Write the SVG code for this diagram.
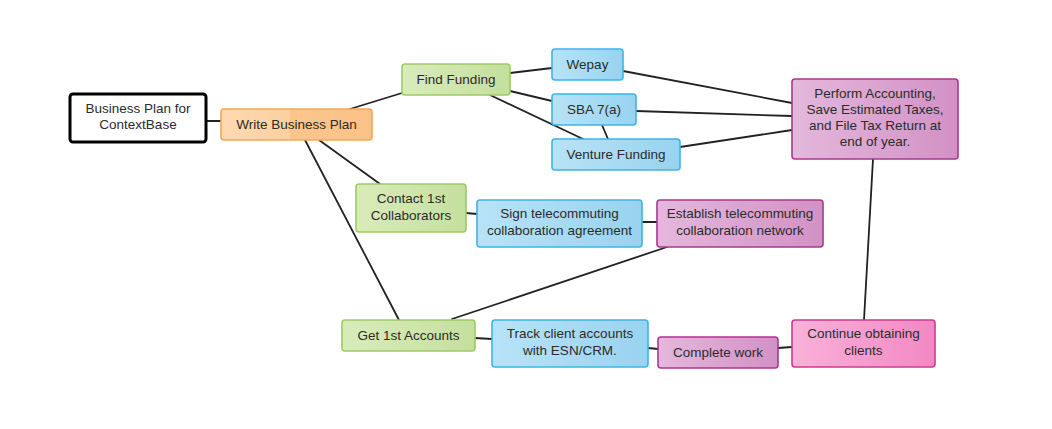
<svg xmlns="http://www.w3.org/2000/svg" width="1052" height="429" viewBox="0 0 1052 429">
<defs>
<linearGradient id="gOr" x1="0" y1="0" x2="1" y2="0"><stop offset="0" stop-color="#fdd9b2"/><stop offset="0.45" stop-color="#fcd0a0"/><stop offset="0.46" stop-color="#fbc58c"/><stop offset="1" stop-color="#fbc287"/></linearGradient>
<linearGradient id="gGr" x1="0" y1="0" x2="1" y2="0"><stop offset="0" stop-color="#d8ecbb"/><stop offset="1" stop-color="#c5df9e"/></linearGradient>
<linearGradient id="gBl" x1="0" y1="0" x2="1" y2="0"><stop offset="0" stop-color="#b8e3f7"/><stop offset="1" stop-color="#98d3ef"/></linearGradient>
<linearGradient id="gMg" x1="0" y1="0" x2="1" y2="0"><stop offset="0" stop-color="#e4b8dc"/><stop offset="1" stop-color="#d291c5"/></linearGradient>
<linearGradient id="gPk" x1="0" y1="0" x2="1" y2="0"><stop offset="0" stop-color="#f9b1d9"/><stop offset="1" stop-color="#f388c4"/></linearGradient>
</defs>
<style>
.t{font-family:"Liberation Sans",Arial,sans-serif;font-size:13.5px;fill:#2b2b2b;text-anchor:middle}
.c{stroke:#222;stroke-width:1.8;fill:none;stroke-linecap:round}
.n{stroke-width:1.6}
.root{fill:#fff;stroke:#000;stroke-width:3}
.or{fill:url(#gOr);stroke:#f6a650}
.gr{fill:url(#gGr);stroke:#9ccd5e}
.bl{fill:url(#gBl);stroke:#3db4e7}
.mg{fill:url(#gMg);stroke:#ad3591}
.pk{fill:url(#gPk);stroke:#cf3893}
</style>
<rect width="1052" height="429" fill="#fff"/>
<g id="connectors">
<line class="c" x1="206" y1="121" x2="221" y2="121"/>
<line class="c" x1="350" y1="109" x2="402" y2="93"/>
<line class="c" x1="305" y1="140" x2="399" y2="320"/>
<line class="c" x1="319" y1="140" x2="380" y2="184"/>
<line class="c" x1="510" y1="73" x2="552" y2="68"/>
<line class="c" x1="510" y1="91" x2="552" y2="101"/>
<line class="c" x1="490" y1="95" x2="583" y2="139"/>
<line class="c" x1="602" y1="125" x2="608" y2="139"/>
<line class="c" x1="623" y1="71" x2="792" y2="103"/>
<line class="c" x1="636" y1="111" x2="792" y2="116"/>
<line class="c" x1="680" y1="147" x2="792" y2="130"/>
<line class="c" x1="873" y1="159" x2="864" y2="320"/>
<line class="c" x1="466" y1="213" x2="477" y2="214"/>
<line class="c" x1="642" y1="222" x2="657" y2="222"/>
<line class="c" x1="667" y1="247" x2="452" y2="319"/>
<line class="c" x1="475" y1="338" x2="492" y2="339"/>
<line class="c" x1="648" y1="348" x2="658" y2="349"/>
<line class="c" x1="778" y1="348" x2="792" y2="347"/>
</g>
<g id="n-root"><rect class="root" x="70" y="94" width="136" height="48" rx="3"/><text class="t" x="138" y="113">Business Plan for</text><text class="t" x="138" y="129">ContextBase</text></g>
<g id="n-write"><rect class="n or" x="221" y="109" width="151" height="31" rx="3"/><text class="t" x="296.5" y="129">Write Business Plan</text></g>
<g id="n-funding"><rect class="n gr" x="402" y="64" width="108" height="31" rx="3"/><text class="t" x="456" y="84">Find Funding</text></g>
<g id="n-wepay"><rect class="n bl" x="552" y="49" width="71" height="31" rx="3"/><text class="t" x="587.5" y="69">Wepay</text></g>
<g id="n-sba"><rect class="n bl" x="552" y="94" width="84" height="31" rx="3"/><text class="t" x="594" y="114">SBA 7(a)</text></g>
<g id="n-venture"><rect class="n bl" x="552" y="139" width="128" height="31" rx="3"/><text class="t" x="616" y="159">Venture Funding</text></g>
<g id="n-accounting"><rect class="n mg" x="792" y="79" width="166" height="80" rx="3"/><text class="t" x="875" y="98">Perform Accounting,</text><text class="t" x="875" y="114">Save Estimated Taxes,</text><text class="t" x="875" y="130">and File Tax Return at</text><text class="t" x="875" y="146">end of year.</text></g>
<g id="n-contact"><rect class="n gr" x="356" y="184" width="110" height="48" rx="3"/><text class="t" x="411" y="203">Contact 1st</text><text class="t" x="411" y="220">Collaborators</text></g>
<g id="n-sign"><rect class="n bl" x="477" y="200" width="165" height="47" rx="3"/><text class="t" x="559.5" y="218">Sign telecommuting</text><text class="t" x="559.5" y="235">collaboration agreement</text></g>
<g id="n-establish"><rect class="n mg" x="657" y="200" width="166" height="47" rx="3"/><text class="t" x="740" y="218">Establish telecommuting</text><text class="t" x="740" y="235">collaboration network</text></g>
<g id="n-accounts"><rect class="n gr" x="342" y="320" width="133" height="31" rx="3"/><text class="t" x="408.5" y="340">Get 1st Accounts</text></g>
<g id="n-track"><rect class="n bl" x="492" y="320" width="156" height="47" rx="3"/><text class="t" x="570" y="338">Track client accounts</text><text class="t" x="570" y="355">with ESN/CRM.</text></g>
<g id="n-complete"><rect class="n mg" x="658" y="337" width="120" height="31" rx="3"/><text class="t" x="718" y="357">Complete work</text></g>
<g id="n-continue"><rect class="n pk" x="792" y="320" width="143" height="47" rx="3"/><text class="t" x="863.5" y="338">Continue obtaining</text><text class="t" x="863.5" y="355">clients</text></g>
</svg>
